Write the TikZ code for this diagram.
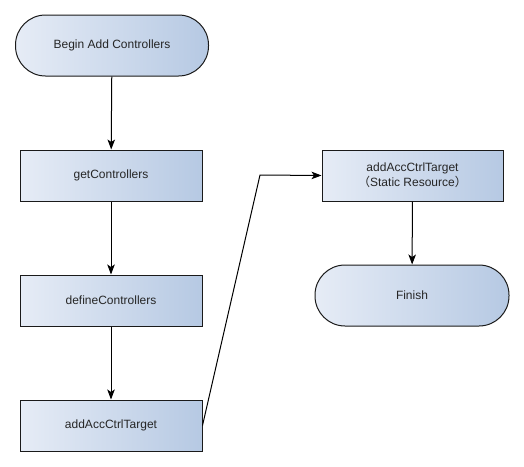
\documentclass[tikz,border=0pt]{standalone}
\usepackage{fontspec}
\setmainfont{Liberation Sans}
\newfontfamily\cjk{Noto Sans CJK SC}
\usetikzlibrary{arrows.meta}
\definecolor{gleft}{HTML}{E6ECF6}
\definecolor{gright}{HTML}{B6C9E3}
\definecolor{edgec}{HTML}{1A1A1A}
\tikzset{
  box/.style={draw=edgec, line width=1pt, left color=gleft, right color=gright,
    minimum width=182pt, minimum height=51pt, inner sep=0pt, align=center,
    font=\fontsize{12}{15}\selectfont, text=black!85},
  term/.style={box, minimum width=193pt, minimum height=61pt, rounded corners=30pt},
  conn/.style={draw=black, line width=1pt, -{Stealth[length=10pt,width=7.5pt,inset=2.5pt]}}
}
\begin{document}
\begin{tikzpicture}[x=1pt,y=-1pt]
\useasboundingbox (0,0) rectangle (524,466);
\node[term] (begin) at (112,45.5) {Begin Add Controllers};
\node[box] (get) at (111,175.5) {getControllers};
\node[box] (def) at (111,300.5) {defineControllers};
\node[box] (add) at (111,425.5) {addAccCtrlTarget};
\node[box, minimum width=181pt] (addS) at (412.5,175.5) {addAccCtrlTarget\\{\cjk （}Static Resource{\cjk ）}};
\node[term, minimum width=194pt] (fin) at (412,295.5) {Finish};
\coordinate (bend) at (260,175);
\draw[conn] (begin) -- (get);
\draw[conn] (get) -- (def);
\draw[conn] (def) -- (add);
\draw[conn] (add.east) -- (bend) -- (addS.west);
\draw[conn] (addS) -- (fin);
\end{tikzpicture}
\end{document}
